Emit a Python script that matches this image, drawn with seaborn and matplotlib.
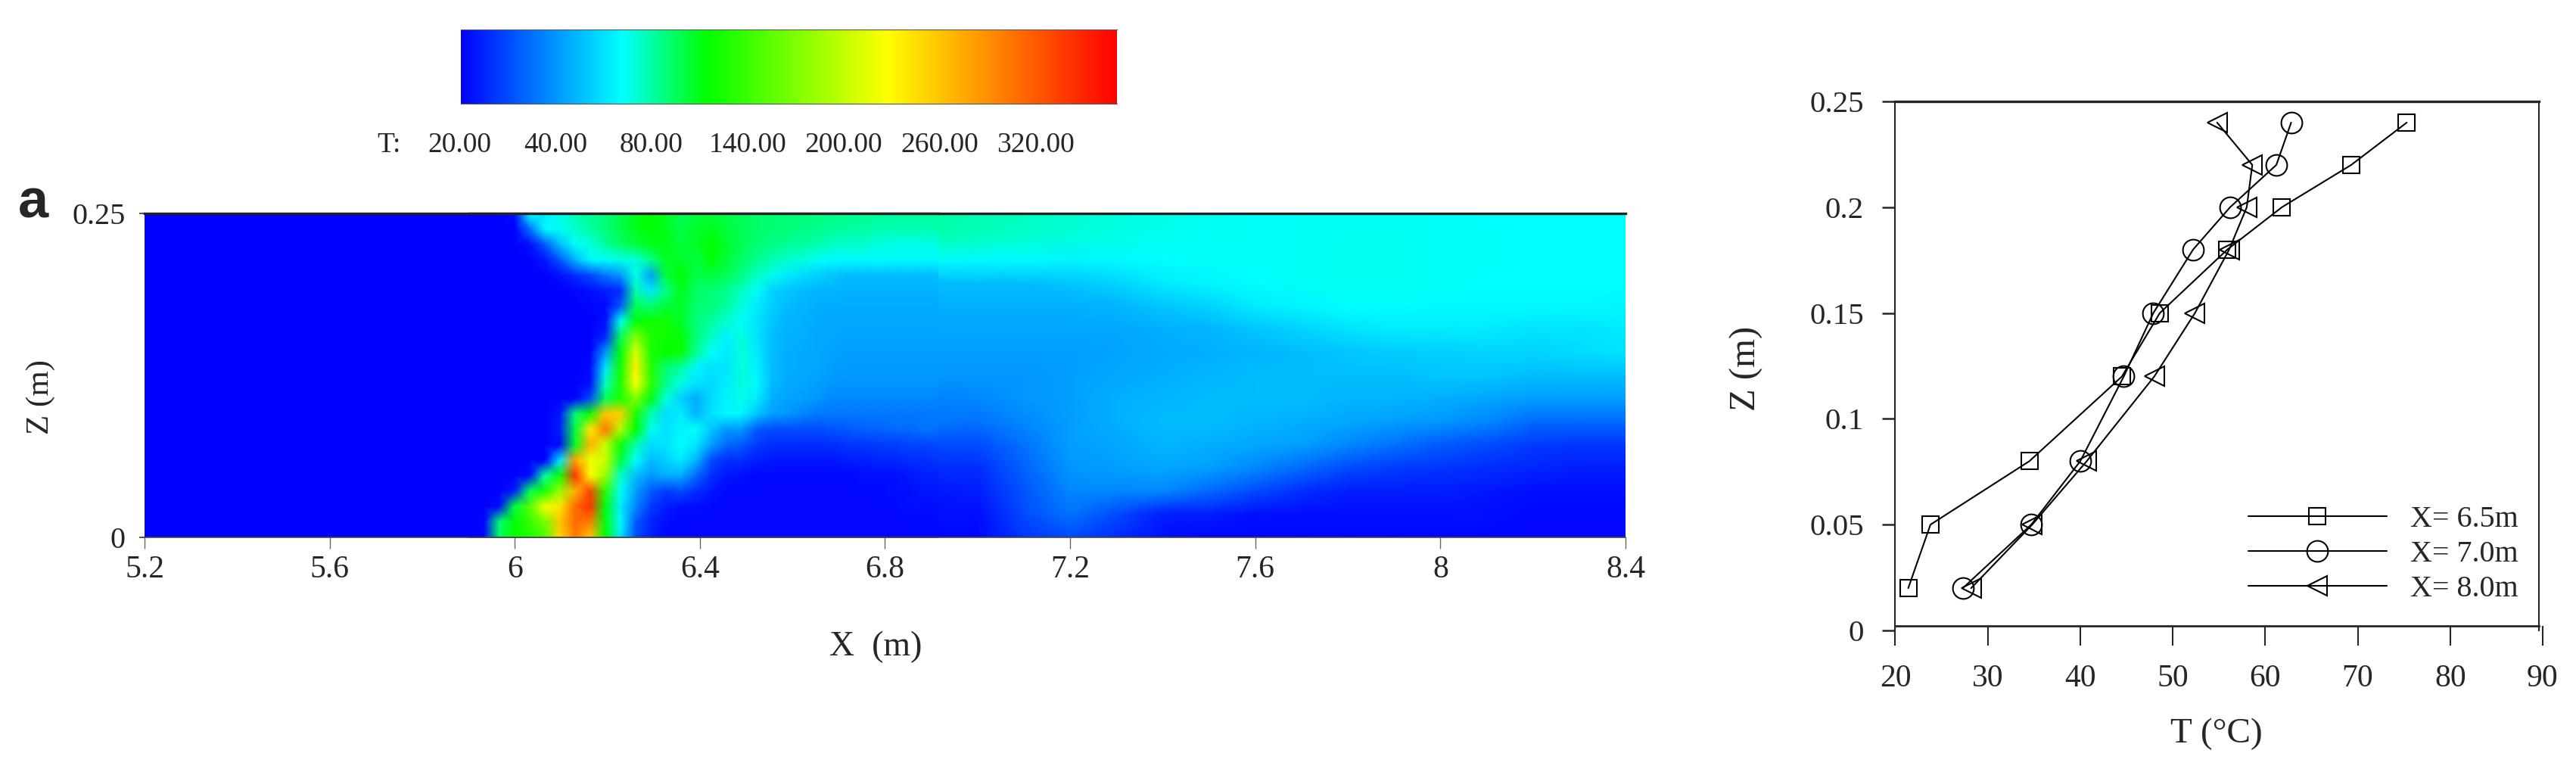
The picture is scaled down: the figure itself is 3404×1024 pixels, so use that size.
import numpy as np
import seaborn as sns
import matplotlib.pyplot as plt
from matplotlib.colors import LinearSegmentedColormap, FuncNorm

W, H = 3405, 1024

# colour bar
bar_labels = ["20.00", "40.00", "80.00", "140.00", "200.00", "260.00", "320.00"]
bar_temps = [20, 40, 80, 140, 200, 260, 320, 370]
bar_levels = [0.0, 0.146, 0.293, 0.44, 0.586, 0.73, 0.88, 1.0]
cmap_stops = [(0.0, "#0000ff"), (0.245, "#00ffff"), (0.374, "#00ff00"), (0.65, "#ffff00"), (1.0, "#ff0000")]

# temperature far field, rows z=0.25 to z=0, columns x=6.9 to 8.4 every 0.1 m
far_rows = [
    [80, 78, 76, 74, 72, 70, 69, 68, 68, 68, 68, 68, 67, 67, 67, 67],
    [78, 76, 74, 72, 70, 69, 68, 68, 68, 69, 69, 68, 68, 67, 67, 67],
    [68, 66, 66, 65, 66, 67, 68, 68, 68, 69, 69, 68, 68, 67, 67, 67],
    [50, 50, 50, 52, 56, 62, 65, 67, 68, 69, 69, 68, 67, 67, 67, 67],
    [46, 46, 46, 46, 48, 52, 56, 62, 65, 67, 67, 66, 66, 66, 66, 65],
    [44, 44, 44, 44, 44, 46, 48, 52, 56, 60, 62, 62, 62, 60, 60, 62],
    [42, 42, 42, 42, 43, 45, 46, 48, 50, 52, 54, 55, 56, 56, 58, 60],
    [40, 40, 40, 42, 44, 46, 48, 50, 50, 50, 50, 52, 52, 50, 50, 50],
    [37, 38, 40, 42, 46, 48, 50, 50, 50, 48, 48, 46, 44, 42, 42, 42],
    [36, 35, 38, 42, 46, 50, 50, 48, 46, 44, 42, 40, 38, 34, 34, 34],
    [30, 30, 35, 42, 44, 48, 46, 44, 42, 38, 35, 32, 30, 28, 27, 27],
    [26, 26, 33, 40, 42, 44, 42, 38, 34, 30, 28, 27, 26, 25, 24, 24],
    [23, 24, 31, 38, 38, 38, 34, 30, 26, 24, 24, 24, 23, 22, 22, 22],
    [22, 22, 30, 35, 30, 24, 24, 22, 22, 22, 22, 22, 22, 21, 21, 21],
    [21, 21, 27, 30, 26, 22, 21, 21, 21, 21, 21, 21, 21, 21, 21, 21],
]
ambient_cols = 17  # x=5.2 to 6.8, cold side of the fire
ambient_temp = 20

# temperature around the fire, finer grid, rows z=0.25 to z=0
flame_rows = [
    [20, 20, 20, 22, 68, 62, 70, 78, 82, 88, 98, 108, 113, 105, 95, 100, 102, 98, 95, 92, 90, 90, 88, 86, 85, 84, 83, 82, 80, 80, 80, 80],
    [20, 20, 20, 20, 35, 66, 68, 74, 80, 88, 98, 108, 112, 108, 98, 104, 108, 100, 96, 92, 90, 88, 86, 84, 82, 80, 80, 78, 78, 78, 78, 78],
    [20, 20, 20, 20, 22, 32, 50, 68, 72, 80, 92, 100, 108, 110, 100, 106, 113, 104, 96, 90, 86, 82, 80, 78, 76, 74, 74, 72, 70, 70, 70, 70],
    [20, 20, 20, 20, 20, 23, 32, 48, 66, 68, 70, 72, 85, 106, 105, 100, 112, 102, 92, 84, 78, 74, 72, 68, 66, 66, 66, 66, 66, 66, 66, 66],
    [20, 20, 20, 20, 20, 20, 22, 26, 30, 36, 40, 70, 42, 100, 112, 98, 100, 96, 86, 76, 70, 62, 58, 55, 52, 50, 50, 50, 50, 50, 50, 50],
    [20, 20, 20, 20, 20, 20, 20, 21, 22, 24, 26, 78, 60, 85, 108, 92, 90, 84, 76, 68, 56, 52, 50, 48, 48, 47, 47, 47, 47, 47, 47, 47],
    [20, 20, 20, 20, 20, 20, 20, 20, 21, 21, 32, 95, 90, 100, 105, 90, 88, 80, 72, 62, 54, 50, 48, 46, 45, 45, 45, 45, 45, 45, 45, 45],
    [20, 20, 20, 20, 20, 20, 20, 20, 20, 22, 70, 110, 120, 120, 105, 88, 80, 74, 68, 60, 52, 48, 47, 45, 44, 44, 44, 44, 44, 44, 44, 44],
    [20, 20, 20, 20, 20, 20, 20, 20, 20, 25, 95, 170, 125, 120, 115, 88, 75, 64, 72, 60, 50, 47, 46, 44, 44, 43, 43, 43, 43, 43, 43, 43],
    [20, 20, 20, 20, 20, 20, 20, 20, 20, 40, 110, 210, 125, 115, 118, 82, 68, 62, 72, 62, 50, 46, 45, 44, 43, 42, 42, 42, 42, 42, 42, 42],
    [20, 20, 20, 20, 20, 20, 20, 20, 21, 60, 120, 235, 130, 90, 80, 65, 60, 60, 72, 64, 50, 46, 45, 44, 42, 41, 41, 41, 41, 41, 41, 41],
    [20, 20, 20, 20, 20, 20, 20, 20, 22, 75, 125, 225, 135, 85, 70, 60, 58, 62, 72, 66, 50, 45, 44, 42, 40, 40, 40, 40, 40, 40, 40, 40],
    [20, 20, 20, 20, 20, 20, 20, 20, 30, 95, 125, 170, 110, 72, 55, 45, 58, 64, 70, 62, 46, 43, 42, 40, 38, 38, 38, 38, 38, 38, 38, 38],
    [20, 20, 20, 20, 20, 20, 23, 90, 120, 260, 255, 125, 78, 58, 62, 48, 60, 66, 65, 52, 42, 40, 38, 36, 36, 36, 36, 36, 36, 36, 36, 36],
    [20, 20, 20, 20, 20, 20, 24, 100, 240, 300, 190, 112, 70, 60, 65, 68, 52, 40, 40, 32, 30, 30, 30, 30, 31, 32, 33, 33, 34, 34, 35, 35],
    [20, 20, 20, 20, 20, 20, 22, 105, 270, 200, 120, 78, 58, 60, 68, 60, 42, 34, 32, 28, 26, 26, 26, 26, 26, 27, 27, 28, 28, 29, 29, 30],
    [20, 20, 20, 20, 20, 20, 60, 280, 220, 200, 100, 68, 50, 55, 62, 48, 30, 26, 26, 24, 23, 23, 23, 23, 23, 24, 24, 25, 25, 26, 26, 27],
    [20, 20, 20, 20, 22, 80, 120, 340, 230, 180, 75, 50, 40, 46, 45, 34, 26, 23, 22, 21, 21, 21, 21, 21, 21, 21, 22, 22, 22, 23, 24, 24],
    [20, 20, 20, 24, 95, 125, 180, 270, 330, 130, 68, 42, 32, 28, 30, 26, 23, 21, 21, 21, 21, 21, 21, 21, 21, 21, 21, 21, 22, 22, 23, 23],
    [20, 20, 22, 100, 150, 220, 240, 310, 340, 110, 62, 38, 28, 24, 22, 22, 21, 21, 21, 21, 21, 21, 21, 21, 21, 21, 21, 21, 21, 22, 22, 22],
    [20, 21, 90, 115, 135, 165, 260, 310, 300, 110, 66, 32, 25, 22, 21, 21, 21, 21, 21, 21, 21, 21, 21, 21, 21, 21, 21, 21, 21, 21, 21, 21],
    [20, 21, 95, 115, 125, 145, 250, 300, 260, 115, 60, 30, 24, 21, 21, 21, 21, 21, 21, 21, 21, 21, 21, 21, 21, 21, 21, 21, 21, 21, 21, 21],
]

# contour panel axes
field_xticks = [5.2, 5.6, 6.0, 6.4, 6.8, 7.2, 7.6, 8.0, 8.4]
field_xlabels = ["5.2", "5.6", "6", "6.4", "6.8", "7.2", "7.6", "8", "8.4"]
field_zlabels = ["0", "0.25"]

# vertical profiles
z_heights = [0.02, 0.05, 0.08, 0.12, 0.15, 0.18, 0.20, 0.22, 0.24]
temp_65 = [21.4, 23.8, 34.5, 44.5, 48.6, 55.9, 61.8, 69.3, 75.3]
temp_70 = [27.3, 34.7, 40.0, 44.7, 47.9, 52.2, 56.2, 61.2, 62.8]
temp_80 = [28.2, 34.8, 40.7, 48.0, 52.4, 56.1, 58.0, 58.6, 54.8]
profile_xticks = [20, 30, 40, 50, 60, 70, 80, 90]
profile_zticks = [0, 0.05, 0.1, 0.15, 0.2, 0.25]
profile_zlabels = ["0", "0.05", "0.1", "0.15", "0.2", "0.25"]


def rect(left, top, right, bottom):
    return [left / W, 1 - bottom / H, (right - left) / W, (bottom - top) / H]


def smooth_heatmap(ax, data, **kw):
    sns.heatmap(data, ax=ax, cbar=False, xticklabels=False, yticklabels=False,
                shading="gouraud", **kw)
    ax.set_xlim(0, data.shape[1] - 1)
    ax.set_ylim(data.shape[0] - 1, 0)


def edge_lines(ax):
    ax.spines["top"].set_visible(True)
    ax.spines["top"].set_linewidth(2.4)
    ax.spines["top"].set_color("#222222")
    ax.spines["bottom"].set_visible(True)
    ax.spines["bottom"].set_linewidth(1.2)
    ax.spines["bottom"].set_color("#444444")


sns.set_style("ticks")
plt.rcParams["font.family"] = ["Liberation Serif", "DejaVu Serif"]

fig = plt.figure(figsize=(W / 100, H / 100), dpi=100)

cmap = LinearSegmentedColormap.from_list("fire", cmap_stops, N=512)
norm = FuncNorm((lambda t: np.interp(t, bar_temps, bar_levels),
                 lambda l: np.interp(l, bar_levels, bar_temps)), vmin=20, vmax=370)

# colour bar
ax_bar = fig.add_axes(rect(609, 39, 1476, 137))
sns.heatmap(np.linspace(0, 1, 512)[None, :], ax=ax_bar, cmap=cmap, vmin=0, vmax=1,
            cbar=False, xticklabels=False, yticklabels=False)
ax_bar.spines["top"].set_visible(True)
ax_bar.spines["top"].set_color("#555555")
ax_bar.spines["bottom"].set_visible(True)
ax_bar.spines["bottom"].set_color("#555555")
fig.text(514 / W, 1 - 192 / H, "T:", fontsize=27, ha="center", va="center")
for i, lab in enumerate(bar_labels):
    fig.text((607 + i * 127) / W, 1 - 192 / H, lab, fontsize=27, ha="center", va="center")

# temperature field
field = np.hstack([np.full((len(far_rows), ambient_cols), ambient_temp), np.array(far_rows)]).astype(float)
ax_field = fig.add_axes(rect(191, 282, 2148, 710))
smooth_heatmap(ax_field, field, cmap=cmap, norm=norm)
edge_lines(ax_field)

x_grid = np.linspace(5.2, 8.4, field.shape[1])
ax_field.set_xticks(np.interp(field_xticks, x_grid, np.arange(field.shape[1])))
ax_field.set_xticklabels(field_xlabels, fontsize=30)
ax_field.set_yticks([field.shape[0] - 1, 0])
ax_field.set_yticklabels(field_zlabels, fontsize=29)
ax_field.tick_params(axis="x", length=11, width=1, color="#666666", pad=6, bottom=True)
ax_field.tick_params(axis="y", length=5, width=1.5, color="#555555", pad=13, left=True)

ax_flame = fig.add_axes(rect(620, 282, 1240, 710))
smooth_heatmap(ax_flame, np.array(flame_rows, dtype=float), cmap=cmap, norm=norm)
edge_lines(ax_flame)

fig.text(44 / W, 1 - 269 / H, "a", family="Liberation Sans", weight="bold", fontsize=52,
         ha="center", va="center")
fig.text(1157 / W, 1 - 855 / H, "X  (m)", fontsize=33, ha="center", va="center")
fig.text(54 / W, 1 - 525 / H, "Z (m)", fontsize=31, rotation=90, ha="center", va="center")

# profiles
ax_prof = fig.add_axes(rect(2504.5, 134, 3360, 833))
line_kw = dict(color="black", linewidth=1.5, markerfacecolor="none", markeredgecolor="black",
               markeredgewidth=1.5, sort=False, estimator=None, ax=ax_prof, clip_on=False)
sns.lineplot(x=temp_65, y=z_heights, marker="s", markersize=16, label="X= 6.5m", **line_kw)
sns.lineplot(x=temp_70, y=z_heights, marker="o", markersize=20, label="X= 7.0m", **line_kw)
sns.lineplot(x=temp_80, y=z_heights, marker="<", markersize=19, label="X= 8.0m", **line_kw)

ax_prof.set_xlim(20, 90)
ax_prof.set_ylim(0, 0.25)
ax_prof.set_xticks(profile_xticks)
ax_prof.set_yticks(profile_zticks)
ax_prof.set_yticklabels(profile_zlabels)
ax_prof.tick_params(axis="x", length=18.5, width=1.5, pad=18, labelsize=30, direction="out")
ax_prof.tick_params(axis="y", length=12, width=1.8, pad=18, labelsize=29.5, direction="out")
ax_prof.spines["bottom"].set_position(("data", 0.0021))
ax_prof.spines["right"].set_position(("data", 89.6))
ax_prof.spines["bottom"].set_bounds(20, 89.6)
ax_prof.spines["top"].set_bounds(20, 89.6)
ax_prof.spines["left"].set_linewidth(1.5)
ax_prof.spines["right"].set_linewidth(1.5)
ax_prof.spines["bottom"].set_linewidth(2)
ax_prof.spines["top"].set_linewidth(2.4)
ax_prof.patch.set_alpha(0)
ax_prof.legend(frameon=False, fontsize=28.8, loc="center left", bbox_to_anchor=(0.545, 0.144),
               borderpad=0, borderaxespad=0, handlelength=4.58, handletextpad=0.78,
               labelspacing=0.22, numpoints=1)
fig.text(2929 / W, 1 - 970 / H, "T (°C)", fontsize=34, ha="center", va="center")
fig.text(2308 / W, 1 - 487 / H, "Z (m)", fontsize=35, rotation=90, ha="center", va="center")

fig.savefig("out.png", dpi=100)
